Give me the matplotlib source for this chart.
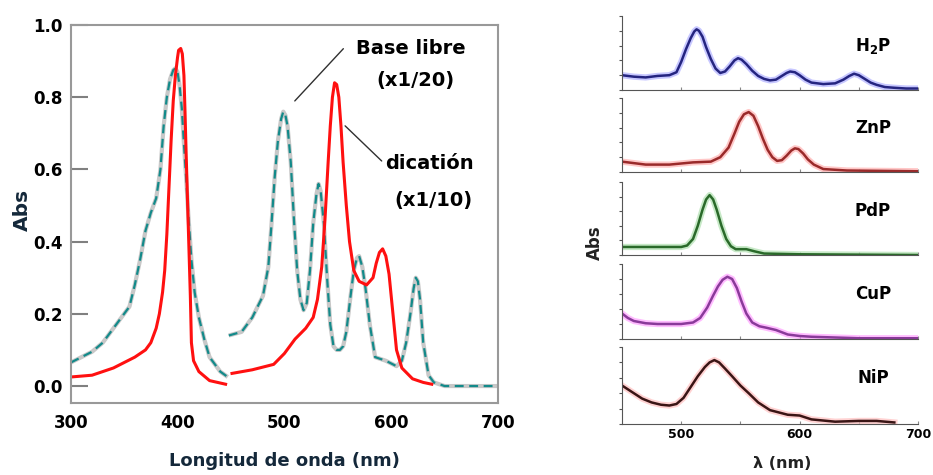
import matplotlib.pyplot as plt

# =====================================================================
# DATA
# =====================================================================
# Left panel: dicatión (x1/10), two segments
DIC_X1 = [300, 320, 340, 360, 370, 375, 380, 383, 386, 388, 390, 392, 394, 396, 398, 400, 401, 403, 404.5, 406, 407, 408, 410, 412, 413, 415, 420, 430, 445]
DIC_Y1 = [0.025, 0.03, 0.05, 0.08, 0.10, 0.12, 0.16, 0.20, 0.26, 0.32, 0.42, 0.55, 0.68, 0.79, 0.86, 0.91, 0.93, 0.935, 0.92, 0.86, 0.76, 0.65, 0.45, 0.25, 0.12, 0.07, 0.04, 0.015, 0.005]
DIC_X2 = [451, 470, 490, 500, 510, 520, 527, 531, 535, 538, 541, 543, 545, 547, 549, 551, 553, 555, 558, 561, 565, 570, 577, 583, 586, 589, 592, 595, 598, 601, 605, 610, 620, 630, 638]
DIC_Y2 = [0.035, 0.045, 0.06, 0.09, 0.13, 0.16, 0.19, 0.24, 0.33, 0.46, 0.62, 0.72, 0.80, 0.84, 0.835, 0.80, 0.72, 0.62, 0.50, 0.40, 0.32, 0.29, 0.28, 0.30, 0.34, 0.37, 0.38, 0.36, 0.31, 0.22, 0.10, 0.05, 0.02, 0.01, 0.005]

# Left panel: base libre (x1/20), two segments
BL_X1 = [300, 310, 320, 330, 340, 350, 355, 360, 365, 370, 375, 380, 384, 387, 390, 393, 396, 398, 400, 402, 404, 406, 408, 410, 413, 416, 420, 425, 430, 435, 440, 447]
BL_Y1 = [0.065, 0.08, 0.095, 0.12, 0.16, 0.20, 0.22, 0.28, 0.35, 0.43, 0.48, 0.52, 0.60, 0.72, 0.80, 0.85, 0.875, 0.88, 0.87, 0.83, 0.77, 0.67, 0.58, 0.48, 0.35, 0.26, 0.19, 0.13, 0.08, 0.06, 0.04, 0.025]
BL_X2 = [448, 460, 470, 480, 485, 488, 491, 494, 497, 499, 501, 503, 506, 509, 512, 515, 518, 521, 524, 527, 530, 532, 534, 537, 540, 543, 546, 549, 552, 555, 558, 562, 565, 568, 570, 573, 576, 580, 585, 595, 605, 610, 614, 618, 621, 623, 625, 627, 630, 635, 640, 650, 700]
BL_Y2 = [0.14, 0.15, 0.19, 0.25, 0.33, 0.45, 0.58, 0.68, 0.74, 0.76, 0.75, 0.72, 0.62, 0.46, 0.32, 0.24, 0.21, 0.23, 0.32, 0.45, 0.53, 0.56, 0.54, 0.45, 0.30, 0.17, 0.11, 0.10, 0.10, 0.11, 0.15, 0.25, 0.32, 0.355, 0.36, 0.33, 0.27, 0.17, 0.08, 0.07, 0.055, 0.07, 0.12, 0.20, 0.27, 0.30, 0.29, 0.24, 0.12, 0.03, 0.01, 0.0, 0.0]

LEFT_XTICKS = [300, 400, 500, 600, 700]
LEFT_YTICKS = [0.0, 0.2, 0.4, 0.6, 0.8, 1.0]

# Right panels: metalloporphyrins (relative absorbance)
PANEL_NAMES = [r"H$_\mathbf{2}$P", "ZnP", "PdP", "CuP", "NiP"]
H2P_X = [450, 460, 470, 480, 490, 496, 500, 504, 508, 511, 513, 515, 518, 521, 525, 529, 533, 537, 541, 545, 548, 551, 555, 560, 565, 570, 575, 580, 585, 589, 592, 596, 600, 605, 610, 620, 630, 637, 642, 646, 650, 655, 660, 665, 672, 680, 690, 700]
H2P_Y = [0.20, 0.18, 0.17, 0.19, 0.20, 0.24, 0.38, 0.55, 0.70, 0.79, 0.82, 0.80, 0.72, 0.58, 0.42, 0.29, 0.23, 0.25, 0.32, 0.40, 0.43, 0.41, 0.35, 0.26, 0.19, 0.15, 0.13, 0.14, 0.19, 0.23, 0.25, 0.24, 0.20, 0.14, 0.10, 0.08, 0.09, 0.14, 0.19, 0.22, 0.20, 0.15, 0.10, 0.07, 0.04, 0.03, 0.02, 0.02]
ZNP_X = [450, 460, 470, 490, 510, 525, 533, 540, 545, 549, 553, 557, 561, 565, 569, 573, 577, 581, 585, 589, 593, 596, 599, 603, 607, 612, 620, 640, 700]
ZNP_Y = [0.14, 0.12, 0.10, 0.10, 0.13, 0.14, 0.20, 0.33, 0.52, 0.68, 0.78, 0.81, 0.76, 0.62, 0.45, 0.30, 0.20, 0.15, 0.16, 0.22, 0.29, 0.32, 0.31, 0.25, 0.17, 0.10, 0.04, 0.02, 0.01]
PDP_X = [450, 480, 500, 505, 510, 514, 518, 521, 524, 527, 530, 534, 538, 542, 546, 555, 562, 570, 600, 700]
PDP_Y = [0.11, 0.11, 0.11, 0.13, 0.22, 0.40, 0.62, 0.76, 0.82, 0.76, 0.62, 0.40, 0.22, 0.12, 0.08, 0.08, 0.05, 0.02, 0.01, 0.0]
CUP_X = [450, 455, 460, 470, 480, 500, 510, 516, 522, 527, 531, 535, 539, 543, 547, 551, 555, 560, 566, 572, 580, 590, 600, 610, 650, 700]
CUP_Y = [0.34, 0.28, 0.24, 0.21, 0.20, 0.20, 0.22, 0.28, 0.42, 0.58, 0.70, 0.79, 0.83, 0.80, 0.68, 0.50, 0.34, 0.22, 0.17, 0.15, 0.12, 0.06, 0.04, 0.03, 0.01, 0.01]
NIP_X = [450, 455, 460, 467, 475, 483, 490, 496, 502, 508, 514, 520, 524, 528, 532, 537, 543, 550, 557, 565, 575, 590, 600, 610, 630, 650, 665, 680]
NIP_Y = [0.50, 0.45, 0.40, 0.33, 0.28, 0.25, 0.24, 0.26, 0.34, 0.48, 0.62, 0.74, 0.80, 0.83, 0.80, 0.72, 0.62, 0.50, 0.40, 0.28, 0.18, 0.12, 0.11, 0.06, 0.03, 0.04, 0.04, 0.02]
RIGHT_XTICKS = [500, 600, 700]

PANEL_X = [H2P_X, ZNP_X, PDP_X, CUP_X, NIP_X]
PANEL_Y = [H2P_Y, ZNP_Y, PDP_Y, CUP_Y, NIP_Y]
PANEL_COLORS = ['#252580', '#9a2a2a', '#2a6a2a', '#8a3a9a', '#3a1515']
PANEL_GLOW = ['#b0b0ff', '#ffb0b0', '#b0e0b0', '#ffa0ff', '#ffc0c0']

# =====================================================================
W, H = 933, 475
fig = plt.figure(figsize=(W / 100, H / 100), dpi=100)
label_color = '#14283a'

# ---- left panel ----
ax = fig.add_axes([70.7 / W, 1 - 403 / H, (498 - 70.7) / W, (403 - 25) / H])
ax.plot(BL_X1, BL_Y1, color='#c8c8c8', lw=3.0, solid_capstyle='butt')
ax.plot(BL_X2, BL_Y2, color='#c8c8c8', lw=3.0, solid_capstyle='butt')
ax.plot(BL_X1, BL_Y1, color='#138a8a', lw=1.6, dashes=(4, 2.5))
ax.plot(BL_X2, BL_Y2, color='#138a8a', lw=1.6, dashes=(4, 2.5))
ax.plot(DIC_X1, DIC_Y1, color='#ff1010', lw=2.2)
ax.plot(DIC_X2, DIC_Y2, color='#ff1010', lw=2.2)

ax.set_xlim(300, 700)
ax.set_ylim(-0.047, 1.0)
ax.set_xticks(LEFT_XTICKS)
ax.set_yticks(LEFT_YTICKS)
ax.set_yticklabels([f"{v:.1f}" for v in LEFT_YTICKS])
ax.tick_params(axis='y', direction='in', length=12, width=1.5, color='#808080', labelsize=12, pad=6)
ax.tick_params(axis='x', length=0, labelsize=12, pad=8)
for lbl in ax.get_xticklabels() + ax.get_yticklabels():
    lbl.set_fontweight('bold')
for s in ax.spines.values():
    s.set_color('#999999')
    s.set_linewidth(1.5)
ax.set_xlabel('Longitud de onda (nm)', fontsize=13, fontweight='bold', color=label_color, labelpad=14)
fig.text(22 / W, 1 - 210 / H, 'Abs', fontsize=14.5, fontweight='bold', rotation=90,
         ha='center', va='center', color=label_color)

ax.annotate('', xy=(508, 0.784), xytext=(557, 0.94),
            arrowprops=dict(arrowstyle='-', color='#303030', lw=1.0))
ax.annotate('', xy=(555, 0.726), xytext=(593, 0.618),
            arrowprops=dict(arrowstyle='-', color='#303030', lw=1.0))
ax.text(618, 0.935, 'Base libre', fontsize=14, fontweight='bold', ha='center', va='center')
ax.text(623, 0.847, '(x1/20)', fontsize=14, fontweight='bold', ha='center', va='center')
ax.text(636, 0.617, 'dicatión', fontsize=14, fontweight='bold', ha='center', va='center')
ax.text(640, 0.515, '(x1/10)', fontsize=14, fontweight='bold', ha='center', va='center')

# ---- right panels ----
bounds = [(16, 90), (98, 172), (182, 255), (264, 339), (347, 424)]
for i, (top, bot) in enumerate(bounds):
    a = fig.add_axes([622 / W, 1 - bot / H, (918 - 622) / W, (bot - top) / H])
    a.plot(PANEL_X[i], PANEL_Y[i], color=PANEL_GLOW[i], lw=4.5, alpha=0.7)
    a.plot(PANEL_X[i], PANEL_Y[i], color=PANEL_COLORS[i], lw=1.8)
    a.set_xlim(450, 700)
    a.set_ylim(0, 1)
    a.spines['top'].set_visible(False)
    a.spines['right'].set_visible(False)
    a.spines['left'].set_color('#555555')
    a.spines['bottom'].set_color('#555555')
    a.set_yticks([0, 0.2, 0.4, 0.6, 0.8, 1.0])
    a.set_yticklabels([])
    a.tick_params(axis='y', direction='out', length=2, color='#555555')
    a.set_xticks([500, 550, 600, 650, 700])
    a.tick_params(axis='x', direction='in', length=2, color='#888888')
    if i < 4:
        a.set_xticklabels([])
    else:
        a.set_xticklabels(['500', '', '600', '', '700'], fontsize=9, fontweight='bold')
        a.tick_params(axis='x', pad=3)
    a.text(662, 0.6, PANEL_NAMES[i], fontsize=12, fontweight='bold', ha='center', va='center')

fig.text(595 / W, 1 - 243 / H, 'Abs', fontsize=12, fontweight='bold', rotation=90,
         ha='center', va='center', color='#222222')
fig.text(782 / W, 1 - 463 / H, 'λ (nm)', fontsize=11.5, fontweight='bold',
         ha='center', va='center', color='#222222')

fig.savefig('out.png', dpi=100)
